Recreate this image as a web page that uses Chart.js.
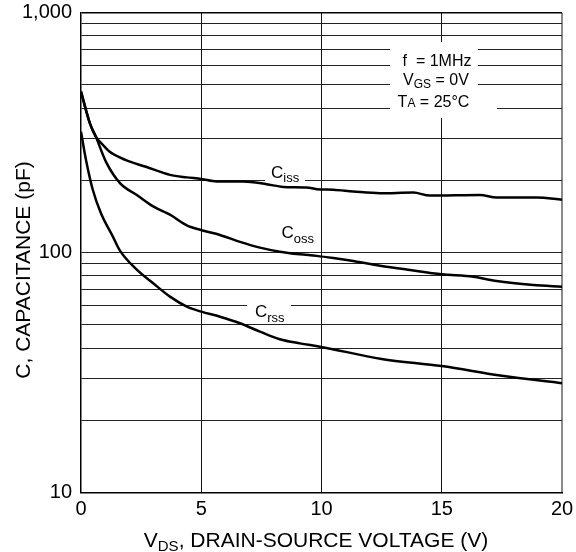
<!DOCTYPE html>
<html>
<head>
<meta charset="utf-8">
<script src="https://cdn.jsdelivr.net/npm/chart.js@4.4.1/dist/chart.umd.min.js"></script>
<style>
  html, body { margin: 0; padding: 0; background: #fff; }
</style>
</head>
<body>
<canvas id="cap-chart" width="576" height="552"></canvas>
<script>
// Capacitance vs drain-source voltage
// VDS in volts, C in pF
var cissV = [0, 0.37, 0.62, 0.9, 1.18, 1.87, 2.7, 3.7, 4.4, 5.0, 5.64, 6.75, 7.72, 8.41, 9.38, 9.8, 10.49, 11.32, 12.43, 13.82, 14.51, 16.59, 17.28, 18.95, 20];
var cissC = [469, 346, 304, 282, 264, 243, 228, 211, 206, 203, 198, 198, 193, 188, 187, 184, 183, 180, 177, 178, 173, 174, 170, 170, 166];

var cossV = [0, 0.37, 0.62, 1.04, 1.62, 2.32, 3.0, 3.7, 4.4, 5.02, 5.78, 6.61, 7.44, 8.27, 9.1, 9.8, 10.49, 11.32, 12.43, 13.68, 15.0, 16.31, 17.28, 18.81, 20];
var cossC = [469, 346, 304, 239, 195, 174, 156, 144, 130, 124, 118.5, 111, 105, 101, 98.5, 97, 95, 92.3, 88.3, 84.7, 81.3, 79.4, 76.2, 73.4, 72.2];

var crssV = [0, 0.21, 0.49, 0.83, 1.32, 1.62, 2.32, 3.0, 3.7, 4.4, 5.0, 5.78, 6.61, 7.44, 8.27, 9.1, 9.94, 12.5, 15, 17.5, 20];
var crssC = [319, 243, 183, 146, 117, 102, 85, 74.6, 65.6, 59.6, 56.8, 54.1, 50.8, 46.9, 43.6, 41.9, 40.6, 36.1, 33.7, 30.7, 28.6];

// axis ticks
var xTicks = [0, 5, 10, 15, 20];
var yGrid = [10, 20, 30, 40, 50, 60, 70, 80, 90, 100, 200, 300, 400, 500, 600, 700, 800, 900, 1000];
var yLabels = { 10: '10', 100: '100', 1000: '1,000' };

var FONT = '"Liberation Sans", Arial, Helvetica, sans-serif';

function pairs(xs, ys) {
  return xs.map(function(x, i) { return { x: x, y: ys[i] }; });
}

// draw a line of text made of pieces [text, size, dy]
function drawParts(ctx, parts, x, y, align) {
  var w = 0;
  parts.forEach(function(p) {
    ctx.font = p[1] + 'px ' + FONT;
    w += ctx.measureText(p[0]).width;
  });
  var cx = x;
  if (align === 'center') cx = x - w / 2;
  if (align === 'right') cx = x - w;
  ctx.textAlign = 'left';
  ctx.textBaseline = 'alphabetic';
  parts.forEach(function(p) {
    ctx.font = p[1] + 'px ' + FONT;
    ctx.fillText(p[0], cx, y + (p[2] || 0));
    cx += ctx.measureText(p[0]).width;
  });
}

var labelsPlugin = {
  id: 'labels',
  beforeDatasetsDraw: function(chart) {
    var ctx = chart.ctx;
    ctx.save();
    // white patches that break the grid behind the labels
    ctx.fillStyle = '#fff';
    ctx.fillRect(390, 42, 88, 76);
    ctx.fillRect(478, 105, 19, 6);
    ctx.fillRect(265, 163, 40, 21);
    ctx.fillRect(247, 300, 44, 23);

    ctx.fillStyle = '#000';
    drawParts(ctx, [['f  = 1MHz', 16]], 437, 65.5, 'center');
    drawParts(ctx, [['V', 16], ['GS', 12, 3], [' = 0V', 16]], 436, 85, 'center');
    drawParts(ctx, [['T', 16], ['A', 12], [' = 25\u00B0C', 16]], 433.5, 107, 'center');

    drawParts(ctx, [['C', 17], ['iss', 13, 4]], 271, 178, 'left');
    drawParts(ctx, [['C', 17], ['oss', 13, 5]], 281.5, 237.5, 'left');
    drawParts(ctx, [['C', 17], ['rss', 13, 5]], 255, 316.5, 'left');
    ctx.restore();
  },
  afterDraw: function(chart) {
    var ctx = chart.ctx;
    ctx.save();
    ctx.fillStyle = '#000';
    drawParts(ctx, [['V', 21], ['DS', 15, 4], [', DRAIN-SOURCE VOLTAGE (V)', 21]], 316, 547, 'center');
    ctx.translate(30, 270);
    ctx.rotate(-Math.PI / 2);
    drawParts(ctx, [['C, CAPACITANCE (pF)', 21]], 0, 0, 'center');
    ctx.restore();
  }
};

var ctx1 = document.getElementById('cap-chart').getContext('2d');
var capChart = new Chart(ctx1, {
  type: 'line',
  data: {
    datasets: [
      { label: 'Ciss', data: pairs(cissV, cissC) },
      { label: 'Coss', data: pairs(cossV, cossC) },
      { label: 'Crss', data: pairs(crssV, crssC) }
    ]
  },
  options: {
    responsive: false,
    animation: false,
    layout: { padding: { top: 12.7, right: 14, left: 0, bottom: 0 } },
    elements: {
      point: { radius: 0 },
      line: { borderColor: '#000', borderWidth: 2.5, cubicInterpolationMode: 'monotone', fill: false }
    },
    plugins: {
      legend: { display: false },
      tooltip: { enabled: false }
    },
    scales: {
      x: {
        type: 'linear',
        min: 0,
        max: 20,
        afterBuildTicks: function(axis) {
          axis.ticks = xTicks.map(function(v) { return { value: v }; });
        },
        afterFit: function(axis) { axis.height = 59.3; },
        border: { color: '#000', width: 1.5 },
        grid: {
          drawTicks: false,
          color: function(c) {
            var v = c.tick && c.tick.value;
            if (v === 0) return 'rgba(0,0,0,0)';
            if (v === 20) return '#8a8a8a';
            return '#111';
          },
          lineWidth: function(c) {
            return (c.tick && c.tick.value === 20) ? 2 : 1;
          }
        },
        ticks: {
          color: '#000',
          padding: 0,
          font: { family: FONT, size: 20, lineHeight: 1.68 },
          callback: function(v) { return String(v); }
        }
      },
      y: {
        type: 'logarithmic',
        min: 10,
        max: 1000,
        afterBuildTicks: function(axis) {
          axis.ticks = yGrid.map(function(v) { return { value: v }; });
        },
        afterFit: function(axis) { axis.width = 81; },
        border: { color: '#000', width: 1.5 },
        grid: {
          drawTicks: false,
          color: function(c) {
            var v = c.tick && c.tick.value;
            if (v === 10) return 'rgba(0,0,0,0)';
            if (v === 1000) return '#000';
            return '#222';
          },
          lineWidth: function(c) {
            return (c.tick && c.tick.value === 1000) ? 1.5 : 1;
          }
        },
        ticks: {
          color: '#000',
          padding: 9,
          autoSkip: false,
          font: { family: FONT, size: 20, lineHeight: 0.35 },
          callback: function(v) { return yLabels[v] || ''; }
        }
      }
    }
  },
  plugins: [labelsPlugin]
});
</script>
</body>
</html>
